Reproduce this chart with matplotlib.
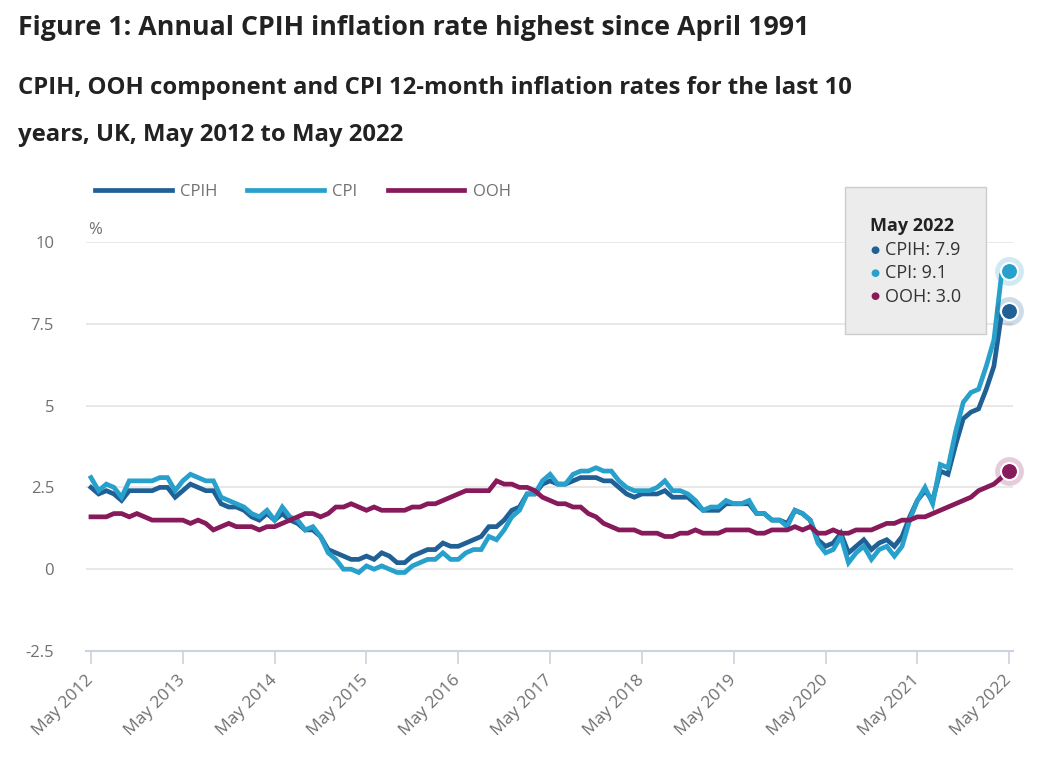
import matplotlib
matplotlib.use("Agg")
import matplotlib.pyplot as plt
from matplotlib.patches import Rectangle
import numpy as np

plt.rcParams['font.family'] = ['Open Sans', 'DejaVu Sans']

# monthly 12-month rates, May 2012 to May 2022
cpih = [2.5, 2.3, 2.4, 2.3, 2.1, 2.4, 2.4, 2.4,
        2.4, 2.5, 2.5, 2.2, 2.4, 2.6, 2.5, 2.4, 2.4, 2.0, 1.9, 1.9,
        1.8, 1.6, 1.5, 1.7, 1.5, 1.7, 1.5, 1.4, 1.2, 1.2, 1.0, 0.6,
        0.5, 0.4, 0.3, 0.3, 0.4, 0.3, 0.5, 0.4, 0.2, 0.2, 0.4, 0.5,
        0.6, 0.6, 0.8, 0.7, 0.7, 0.8, 0.9, 1.0, 1.3, 1.3, 1.5, 1.8,
        1.9, 2.3, 2.3, 2.6, 2.7, 2.6, 2.6, 2.7, 2.8, 2.8, 2.8, 2.7,
        2.7, 2.5, 2.3, 2.2, 2.3, 2.3, 2.3, 2.4, 2.2, 2.2, 2.2, 2.0,
        1.8, 1.8, 1.8, 2.0, 2.0, 2.0, 2.0, 1.7, 1.7, 1.5, 1.5, 1.4,
        1.8, 1.7, 1.5, 0.9, 0.7, 0.8, 1.1, 0.5, 0.7, 0.9, 0.6, 0.8,
        0.9, 0.7, 1.0, 1.6, 2.1, 2.4, 2.1, 3.0, 2.9, 3.8, 4.6, 4.8,
        4.9, 5.5, 6.2, 7.8, 7.9]
cpi = [2.8, 2.4, 2.6, 2.5, 2.2, 2.7, 2.7, 2.7,
       2.7, 2.8, 2.8, 2.4, 2.7, 2.9, 2.8, 2.7, 2.7, 2.2, 2.1, 2.0,
       1.9, 1.7, 1.6, 1.8, 1.5, 1.9, 1.6, 1.5, 1.2, 1.3, 1.0, 0.5,
       0.3, 0.0, 0.0, -0.1, 0.1, 0.0, 0.1, 0.0, -0.1, -0.1, 0.1, 0.2,
       0.3, 0.3, 0.5, 0.3, 0.3, 0.5, 0.6, 0.6, 1.0, 0.9, 1.2, 1.6,
       1.8, 2.3, 2.3, 2.7, 2.9, 2.6, 2.6, 2.9, 3.0, 3.0, 3.1, 3.0,
       3.0, 2.7, 2.5, 2.4, 2.4, 2.4, 2.5, 2.7, 2.4, 2.4, 2.3, 2.1,
       1.8, 1.9, 1.9, 2.1, 2.0, 2.0, 2.1, 1.7, 1.7, 1.5, 1.5, 1.3,
       1.8, 1.7, 1.5, 0.8, 0.5, 0.6, 1.0, 0.2, 0.5, 0.7, 0.3, 0.6,
       0.7, 0.4, 0.7, 1.5, 2.1, 2.5, 2.0, 3.2, 3.1, 4.2, 5.1, 5.4,
       5.5, 6.2, 7.0, 9.0, 9.1]
ooh = [1.6, 1.6, 1.6, 1.7, 1.7, 1.6, 1.7, 1.6,
       1.5, 1.5, 1.5, 1.5, 1.5, 1.4, 1.5, 1.4, 1.2, 1.3, 1.4, 1.3,
       1.3, 1.3, 1.2, 1.3, 1.3, 1.4, 1.5, 1.6, 1.7, 1.7, 1.6, 1.7,
       1.9, 1.9, 2.0, 1.9, 1.8, 1.9, 1.8, 1.8, 1.8, 1.8, 1.9, 1.9,
       2.0, 2.0, 2.1, 2.2, 2.3, 2.4, 2.4, 2.4, 2.4, 2.7, 2.6, 2.6,
       2.5, 2.5, 2.4, 2.2, 2.1, 2.0, 2.0, 1.9, 1.9, 1.7, 1.6, 1.4,
       1.3, 1.2, 1.2, 1.2, 1.1, 1.1, 1.1, 1.0, 1.0, 1.1, 1.1, 1.2,
       1.1, 1.1, 1.1, 1.2, 1.2, 1.2, 1.2, 1.1, 1.1, 1.2, 1.2, 1.2,
       1.3, 1.2, 1.3, 1.1, 1.1, 1.2, 1.1, 1.1, 1.2, 1.2, 1.2, 1.3,
       1.4, 1.4, 1.5, 1.5, 1.6, 1.6, 1.7, 1.8, 1.9, 2.0, 2.1, 2.2,
       2.4, 2.5, 2.6, 2.8, 3.0]
tick_labels = ["May 2012", "May 2013", "May 2014", "May 2015", "May 2016",
               "May 2017", "May 2018", "May 2019", "May 2020", "May 2021", "May 2022"]

c_cpih = "#206095"
c_cpi = "#27a0cc"
c_ooh = "#871a5b"
grey = "#707071"

fig = plt.figure(figsize=(10.58, 7.72), dpi=100)
ax = fig.add_axes([86 / 1058, 1 - 651 / 772, 927 / 1058, 409 / 772])

x = np.arange(len(cpih))
ax.plot(x, cpih, color=c_cpih, lw=3.4, label="CPIH", solid_joinstyle="miter")
ax.plot(x, cpi, color=c_cpi, lw=3.4, label="CPI", solid_joinstyle="miter")
ax.plot(x, ooh, color=c_ooh, lw=3.4, label="OOH", solid_joinstyle="miter")

# highlighted last points
for s, c in [(cpih, c_cpih), (cpi, c_cpi), (ooh, c_ooh)]:
    ax.scatter([x[-1]], [s[-1]], s=430, color=c, alpha=0.22, lw=0, clip_on=False, zorder=4)
    ax.scatter([x[-1]], [s[-1]], s=150, color=c, edgecolor="white", lw=1.5, clip_on=False, zorder=5)

ax.set_xlim(-0.65, 120.5)
ax.set_ylim(-2.5, 10)
ax.set_yticks([-2.5, 0, 2.5, 5, 7.5, 10])
ax.set_yticklabels(["-2.5", "0", "2.5", "5", "7.5", "10"])
ax.set_xticks(np.arange(0, 121, 12))
ax.set_xticklabels(tick_labels, rotation=45, ha="right", va="center", rotation_mode="anchor")

ax.grid(axis="y", color="#e4e4e4", lw=1.2)
ax.set_axisbelow(True)
for side in ["top", "right", "left"]:
    ax.spines[side].set_visible(False)
ax.spines["bottom"].set_color("#ccd3de")
ax.spines["bottom"].set_linewidth(1.5)
ax.tick_params(axis="y", length=0, pad=23, labelsize=12, labelcolor=grey)
ax.tick_params(axis="x", length=9, width=1.2, color="#ccd3de", pad=10, labelsize=12.5, labelcolor=grey)

fig.text(88 / 1058, 1 - 230 / 772, "%", fontsize=12, color=grey, va="center")

ax.legend(loc="center left", bbox_to_anchor=(80 / 1058, 1 - 192 / 772), bbox_transform=fig.transFigure,
          ncol=3, frameon=False, handlelength=4.6, handletextpad=0.5, columnspacing=1.8,
          fontsize=12, labelcolor=grey)

# titles
fig.text(18 / 1058, 1 - 28 / 772, "Figure 1: Annual CPIH inflation rate highest since April 1991",
         fontsize=19.3, fontweight="bold", color="#222222", va="center")
fig.text(18 / 1058, 1 - 88 / 772, "CPIH, OOH component and CPI 12-month inflation rates for the last 10",
         fontsize=17.2, fontweight="bold", color="#222222", va="center")
fig.text(18 / 1058, 1 - 135 / 772, "years, UK, May 2012 to May 2022",
         fontsize=17.2, fontweight="bold", color="#222222", va="center")

# tooltip box
fig.patches.append(Rectangle((845 / 1058, 1 - 334 / 772), 141 / 1058, 147 / 772,
                             transform=fig.transFigure, facecolor="#ececec",
                             edgecolor="#cccccc", lw=1, zorder=6))
fig.text(870 / 1058, 1 - 226 / 772, "May 2022", fontsize=13, fontweight="bold",
         color="#222222", va="center", zorder=7)
for i, (lab, c) in enumerate([("CPIH: 7.9", c_cpih), ("CPI: 9.1", c_cpi), ("OOH: 3.0", c_ooh)]):
    yy = 1 - (250 + i * 23.5) / 772
    fig.text(870 / 1058, yy, "\u25cf", fontsize=7.5, color=c, va="center", zorder=7)
    fig.text(885 / 1058, yy, lab, fontsize=13, color="#333333", va="center", zorder=7)

fig.savefig("out.png", dpi=100)
